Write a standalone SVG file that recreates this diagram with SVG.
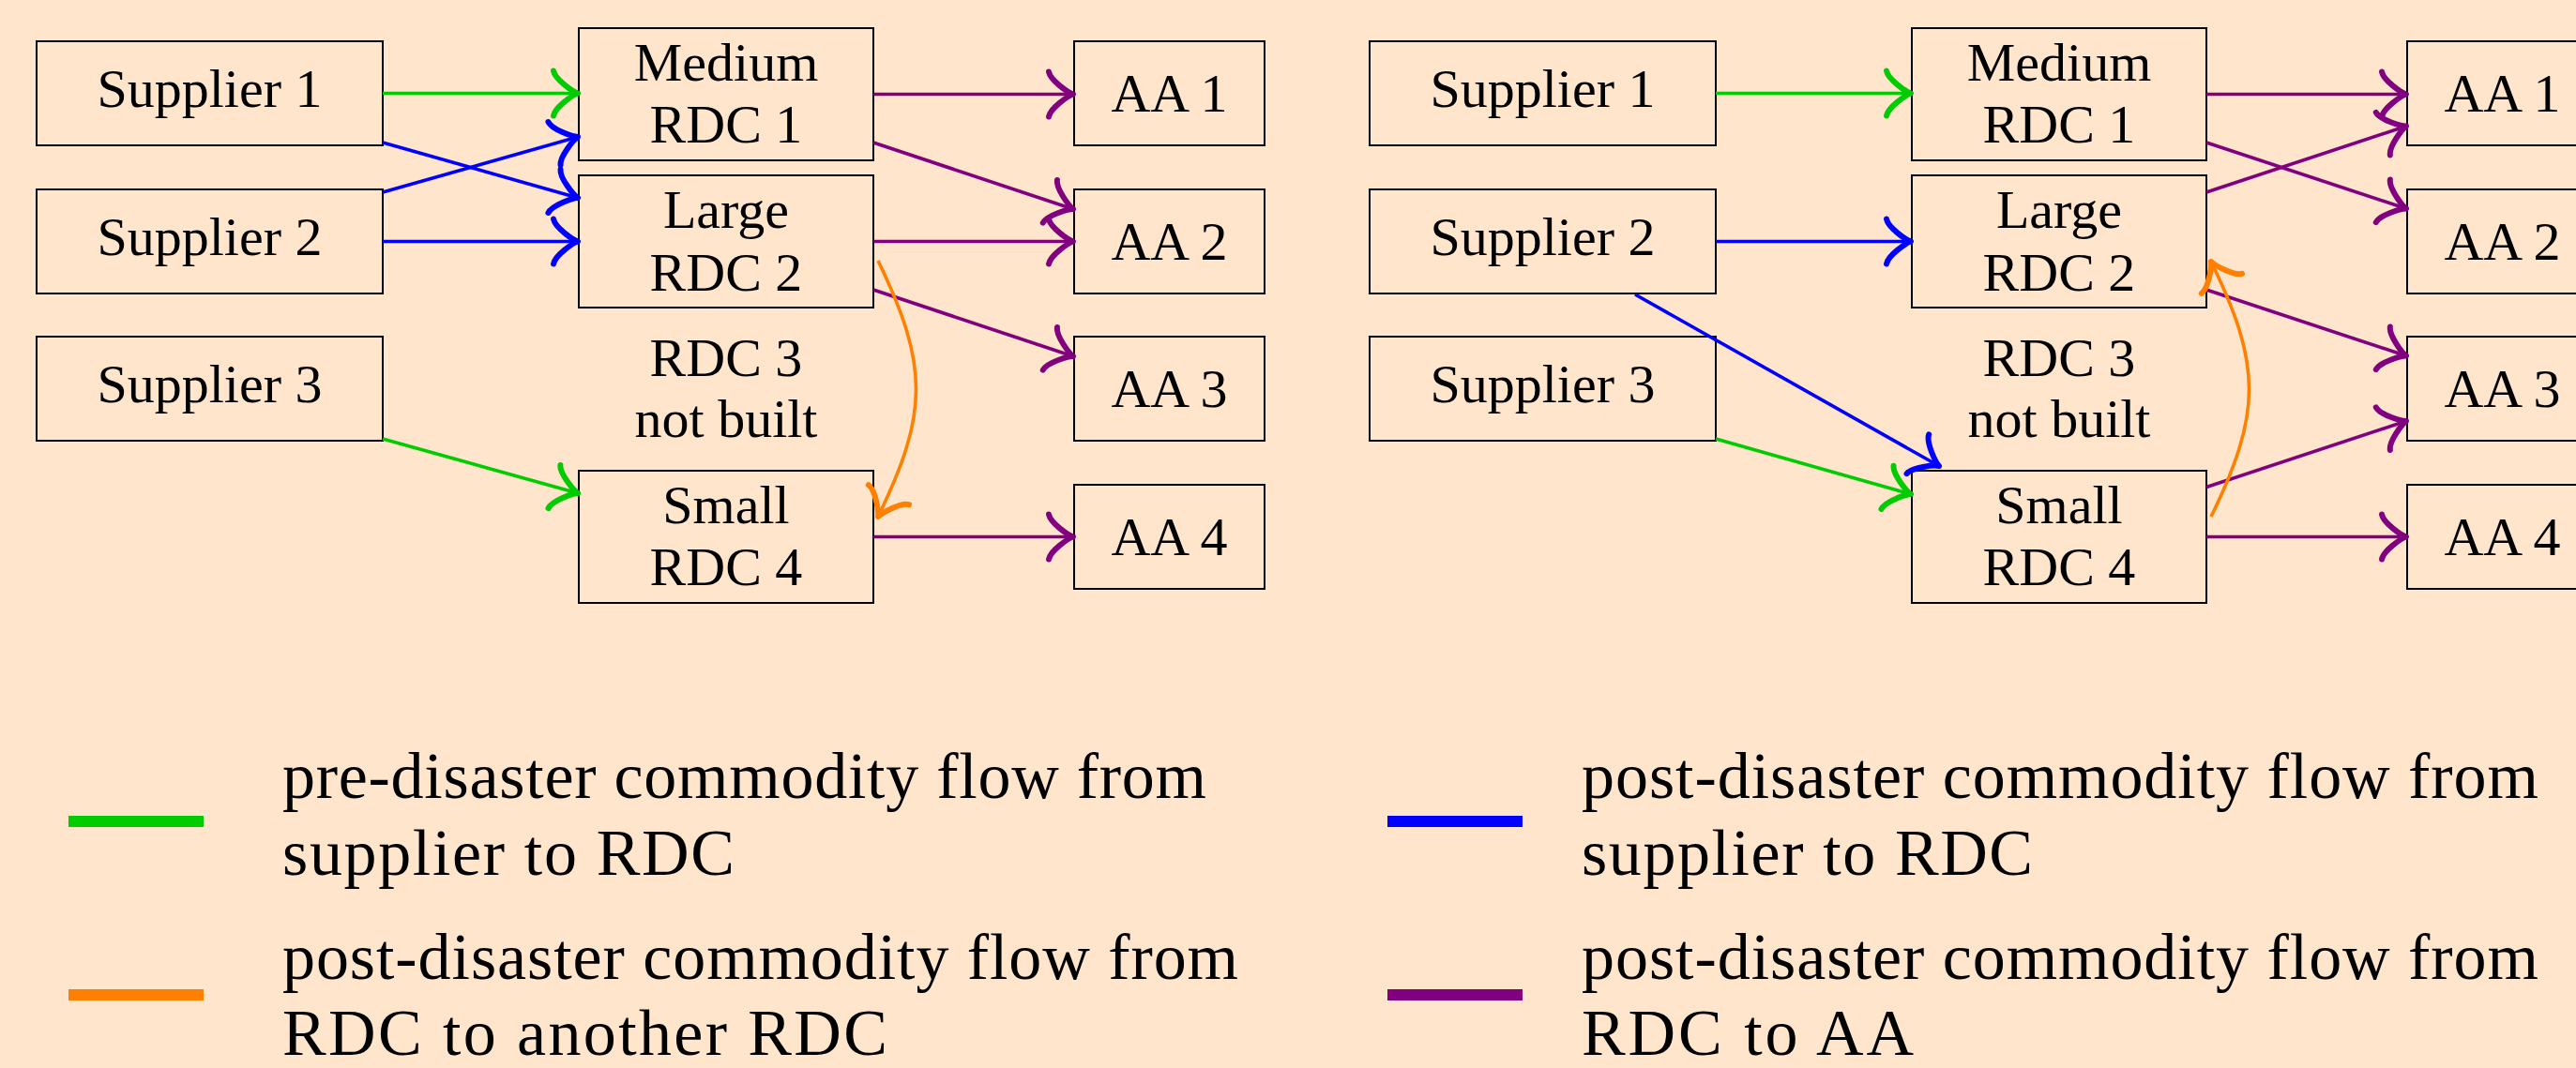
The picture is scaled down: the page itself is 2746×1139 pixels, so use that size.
<svg xmlns="http://www.w3.org/2000/svg" width="2746" height="1139" viewBox="0 0 2746 1139">
  <style>
    .box { fill: none; stroke: #000; stroke-width: 2; }
    .lbl { font-family: "Liberation Serif", "Times New Roman", serif; font-size: 58px; text-anchor: middle; fill: #000; }
    .leg { font-family: "Liberation Serif", "Times New Roman", serif; font-size: 70px; fill: #000; }
    .e { fill: none; stroke-width: 3.6; }
    .green { stroke: #00CC00; marker-end: url(#ah-green); }
    .blue { stroke: #0000FF; marker-end: url(#ah-blue); }
    .purple { stroke: #800080; marker-end: url(#ah-purple); }
    .orange { stroke: #FF8000; marker-end: url(#ah-orange); }
    .head { fill: none; stroke-width: 6; stroke-linecap: round; stroke-linejoin: round; }
  </style>
  <defs>
    <!-- curved "to" style arrow tips, one per flow colour -->
    <marker id="ah-green" markerUnits="userSpaceOnUse" markerWidth="40" markerHeight="64" viewBox="-34 -32 40 64" refX="0" refY="0" orient="auto" overflow="visible">
      <path class="head" stroke="#00CC00" d="M-26,-24 C-24.5,-15 -5,-1.5 0,0 C-5,1.5 -24.5,15 -26,24"/>
    </marker>
    <marker id="ah-blue" markerUnits="userSpaceOnUse" markerWidth="40" markerHeight="64" viewBox="-34 -32 40 64" refX="0" refY="0" orient="auto" overflow="visible">
      <path class="head" stroke="#0000FF" d="M-26,-24 C-24.5,-15 -5,-1.5 0,0 C-5,1.5 -24.5,15 -26,24"/>
    </marker>
    <marker id="ah-purple" markerUnits="userSpaceOnUse" markerWidth="40" markerHeight="64" viewBox="-34 -32 40 64" refX="0" refY="0" orient="auto" overflow="visible">
      <path class="head" stroke="#800080" d="M-26,-24 C-24.5,-15 -5,-1.5 0,0 C-5,1.5 -24.5,15 -26,24"/>
    </marker>
    <marker id="ah-orange" markerUnits="userSpaceOnUse" markerWidth="40" markerHeight="64" viewBox="-34 -32 40 64" refX="0" refY="0" orient="auto" overflow="visible">
      <path class="head" stroke="#FF8000" d="M-26,-24 C-24.5,-15 -5,-1.5 0,0 C-5,1.5 -24.5,15 -26,24"/>
    </marker>
  </defs>

  <rect x="0" y="0" width="2746" height="1139" fill="#FFE5CC"/>

  <!-- ===== Pre-disaster network (left) ===== -->
  <g id="L-supplier1"><rect class="box" x="39" y="44" width="369" height="111"/><text class="lbl" x="223.5" y="114">Supplier 1</text></g>
  <g id="L-supplier2"><rect class="box" x="39" y="202" width="369" height="111"/><text class="lbl" x="223.5" y="272">Supplier 2</text></g>
  <g id="L-supplier3"><rect class="box" x="39" y="359" width="369" height="111"/><text class="lbl" x="223.5" y="429">Supplier 3</text></g>

  <g id="L-rdc1"><rect class="box" x="617" y="30" width="314" height="141"/><text class="lbl" x="774" y="86">Medium</text><text class="lbl" x="774" y="152">RDC 1</text></g>
  <g id="L-rdc2"><rect class="box" x="617" y="187" width="314" height="141"/><text class="lbl" x="774" y="243">Large</text><text class="lbl" x="774" y="310">RDC 2</text></g>
  <g id="L-rdc3"><text class="lbl" x="774" y="401">RDC 3</text><text class="lbl" x="774" y="466">not built</text></g>
  <g id="L-rdc4"><rect class="box" x="617" y="502" width="314" height="141"/><text class="lbl" x="774" y="558">Small</text><text class="lbl" x="774" y="624">RDC 4</text></g>

  <g id="L-aa1"><rect class="box" x="1145" y="44" width="203" height="111"/><text class="lbl" x="1246.5" y="118.5">AA 1</text></g>
  <g id="L-aa2"><rect class="box" x="1145" y="202" width="203" height="111"/><text class="lbl" x="1246.5" y="276.5">AA 2</text></g>
  <g id="L-aa3"><rect class="box" x="1145" y="359" width="203" height="111"/><text class="lbl" x="1246.5" y="433.5">AA 3</text></g>
  <g id="L-aa4"><rect class="box" x="1145" y="517" width="203" height="111"/><text class="lbl" x="1246.5" y="591.5">AA 4</text></g>

  <!-- ===== Post-disaster network (right) ===== -->
  <g id="R-supplier1"><rect class="box" x="1460" y="44" width="369" height="111"/><text class="lbl" x="1644.5" y="114">Supplier 1</text></g>
  <g id="R-supplier2"><rect class="box" x="1460" y="202" width="369" height="111"/><text class="lbl" x="1644.5" y="272">Supplier 2</text></g>
  <g id="R-supplier3"><rect class="box" x="1460" y="359" width="369" height="111"/><text class="lbl" x="1644.5" y="429">Supplier 3</text></g>

  <g id="R-rdc1"><rect class="box" x="2038" y="30" width="314" height="141"/><text class="lbl" x="2195" y="86">Medium</text><text class="lbl" x="2195" y="152">RDC 1</text></g>
  <g id="R-rdc2"><rect class="box" x="2038" y="187" width="314" height="141"/><text class="lbl" x="2195" y="243">Large</text><text class="lbl" x="2195" y="310">RDC 2</text></g>
  <g id="R-rdc3"><text class="lbl" x="2195" y="401">RDC 3</text><text class="lbl" x="2195" y="466">not built</text></g>
  <g id="R-rdc4"><rect class="box" x="2038" y="502" width="314" height="141"/><text class="lbl" x="2195" y="558">Small</text><text class="lbl" x="2195" y="624">RDC 4</text></g>

  <g id="R-aa1"><rect class="box" x="2566" y="44" width="203" height="111"/><text class="lbl" x="2667.5" y="118.5">AA 1</text></g>
  <g id="R-aa2"><rect class="box" x="2566" y="202" width="203" height="111"/><text class="lbl" x="2667.5" y="276.5">AA 2</text></g>
  <g id="R-aa3"><rect class="box" x="2566" y="359" width="203" height="111"/><text class="lbl" x="2667.5" y="433.5">AA 3</text></g>
  <g id="R-aa4"><rect class="box" x="2566" y="517" width="203" height="111"/><text class="lbl" x="2667.5" y="591.5">AA 4</text></g>

  <!-- ===== Flows ===== -->
  <g id="connectors">
    <!-- left network -->
    <path class="e green" d="M408,99.5 H616"/>
    <path class="e blue" d="M408,152 L616,211"/>
    <path class="e blue" d="M408,205 L616,146"/>
    <path class="e blue" d="M408,257.5 H616"/>
    <path class="e green" d="M408,468 L616,526"/>
    <path class="e purple" d="M931,100.5 H1144"/>
    <path class="e purple" d="M931,152 L1144,223"/>
    <path class="e purple" d="M931,257.5 H1144"/>
    <path class="e purple" d="M931,309 L1144,380"/>
    <path class="e purple" d="M931,572.5 H1144"/>
    <path class="e orange" d="M936,278 C990,390 990,440 936,551"/>
    <!-- right network -->
    <path class="e green" d="M1829,99.5 H2037"/>
    <path class="e blue" d="M1829,257.5 H2037"/>
    <path class="e blue" d="M1743,314 L2067,497"/>
    <path class="e green" d="M1829,468 L2037,527"/>
    <path class="e purple" d="M2352,100.5 H2565"/>
    <path class="e purple" d="M2352,152 L2565,222.5"/>
    <path class="e purple" d="M2352,205 L2565,134.5"/>
    <path class="e purple" d="M2352,309 L2565,379.5"/>
    <path class="e purple" d="M2352,519.5 L2565,449"/>
    <path class="e purple" d="M2352,572.5 H2565"/>
    <path class="e orange" d="M2357,551 C2411,440 2411,390 2357,279"/>
  </g>

  <!-- ===== Legend ===== -->
  <g id="legend">
    <rect x="73" y="870" width="144" height="12" fill="#00CC00"/>
    <text class="leg" x="301" y="851" textLength="985" lengthAdjust="spacing">pre-disaster commodity flow from</text>
    <text class="leg" x="301" y="933" textLength="482" lengthAdjust="spacing">supplier to RDC</text>

    <rect x="73" y="1055" width="144" height="12" fill="#FF8000"/>
    <text class="leg" x="301" y="1044" textLength="1019" lengthAdjust="spacing">post-disaster commodity flow from</text>
    <text class="leg" x="301" y="1125" textLength="645" lengthAdjust="spacing">RDC to another RDC</text>

    <rect x="1479" y="870" width="144" height="12" fill="#0000FF"/>
    <text class="leg" x="1686" y="851" textLength="1020" lengthAdjust="spacing">post-disaster commodity flow from</text>
    <text class="leg" x="1686" y="933" textLength="481" lengthAdjust="spacing">supplier to RDC</text>

    <rect x="1479" y="1055" width="144" height="12" fill="#800080"/>
    <text class="leg" x="1686" y="1044" textLength="1020" lengthAdjust="spacing">post-disaster commodity flow from</text>
    <text class="leg" x="1686" y="1125" textLength="354" lengthAdjust="spacing">RDC to AA</text>
  </g>
</svg>
